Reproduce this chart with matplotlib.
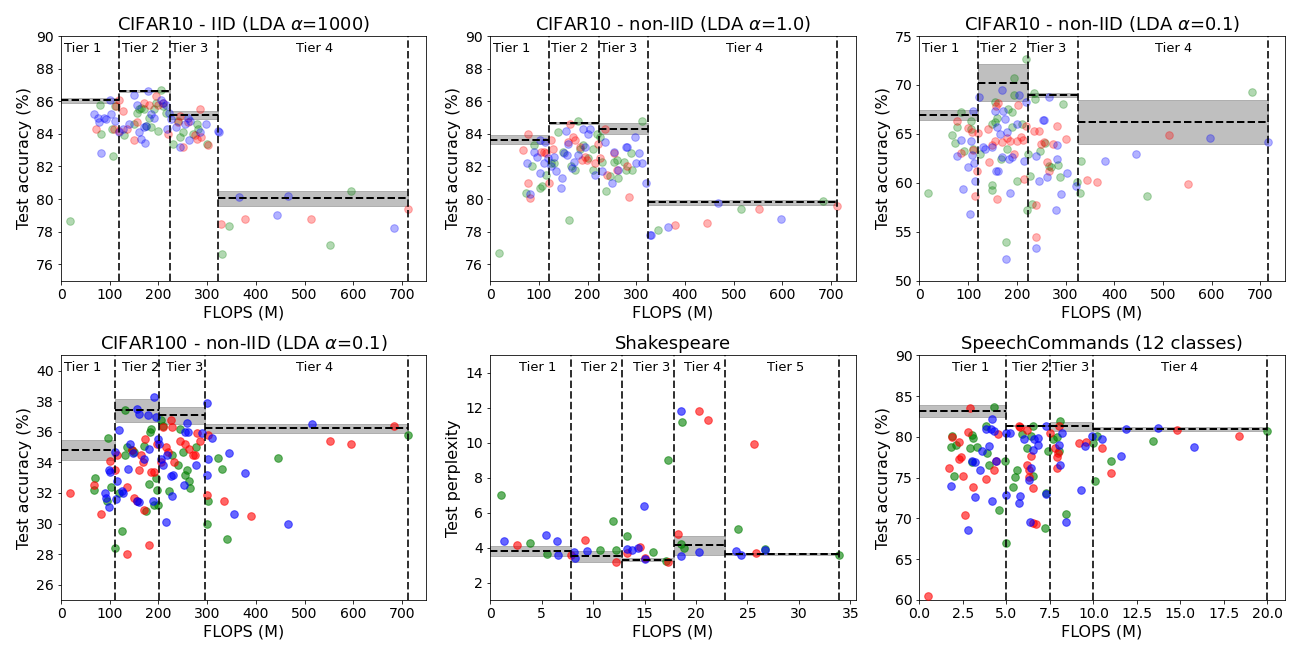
import numpy as np
import matplotlib.pyplot as plt
import matplotlib.transforms as mtransforms

# ---- CIFAR10 IID (alpha=1000) ----
c10iid_bounds = [0, 120, 223, 323, 713]
c10iid_mean = [86.05, 86.62, 85.17, 80.05]
c10iid_std = [0.13, 0.06, 0.25, 0.45]
c10iid_tier_x = [44, 163, 264, 521]
c10iid_green = [(18, 78.65), (80, 85.8), (82, 84.0), (107, 82.65), (105, 84.3), (110, 85.7), (130, 83.9),
                (150, 84.6), (155, 85.3), (160, 85.5), (165, 85.6), (170, 85.5), (175, 84.5), (180, 85.0),
                (185, 84.4), (190, 85.5), (195, 85.9), (200, 84.2), (205, 86.7), (210, 85.7), (215, 85.3),
                (230, 83.4), (240, 84.8), (245, 83.8), (250, 84.1), (270, 84.0), (280, 84.6), (282, 84.3),
                (300, 83.4), (330, 76.65), (345, 78.35), (552, 77.2), (596, 80.5)]
c10iid_red = [(72, 84.3), (108, 84.3), (113, 85.7), (118, 86.05), (120, 84.2), (128, 85.4), (135, 84.3),
              (150, 83.6), (155, 84.7), (170, 85.9), (180, 85.8), (195, 86.3), (200, 85.8), (210, 85.9),
              (220, 84.0), (240, 84.7), (245, 85.1), (250, 83.2), (260, 84.7), (275, 83.9), (280, 83.7),
              (285, 85.5), (288, 83.8), (302, 83.3), (328, 78.45), (377, 78.75), (514, 78.8), (713, 79.4)]
c10iid_blue = [(68, 85.2), (75, 85.0), (78, 84.7), (82, 82.85), (88, 85.0), (92, 84.9), (100, 86.1),
               (103, 85.2), (110, 84.8), (120, 84.1), (128, 84.3), (140, 84.6), (150, 86.4), (155, 85.8),
               (160, 84.1), (165, 83.7), (170, 84.4), (172, 83.45), (175, 84.5), (178, 86.6), (185, 85.2),
               (190, 85.0), (205, 86.1), (210, 85.9), (215, 85.8), (218, 84.3), (222, 85.3), (225, 84.9),
               (235, 84.4), (245, 83.2), (255, 84.6), (260, 85.0), (262, 83.6), (265, 84.8), (285, 84.1),
               (297, 84.6), (322, 84.2), (324, 84.1), (365, 80.15), (443, 79.05), (467, 80.2), (683, 78.2)]

# ---- CIFAR10 non-IID (alpha=1.0) ----
c10a1_bounds = [0, 120, 223, 323, 713]
c10a1_mean = [83.65, 84.65, 84.32, 79.8]
c10a1_std = [0.27, 0.05, 0.35, 0.15]
c10a1_tier_x = [44, 163, 264, 522]
c10a1_green = [(18, 76.7), (73, 80.4), (85, 82.0), (90, 83.3), (103, 80.7), (107, 80.8), (115, 81.5),
               (125, 82.2), (130, 82.2), (140, 84.1), (150, 82.9), (162, 78.7), (165, 82.0), (175, 81.8),
               (180, 84.8), (185, 83.1), (190, 83.3), (200, 82.5), (210, 83.1), (212, 81.8), (220, 84.0),
               (225, 83.8), (230, 82.3), (238, 80.5), (245, 81.4), (255, 82.3), (260, 82.4), (262, 81.3),
               (275, 82.3), (278, 81.8), (290, 82.8), (292, 81.8), (312, 84.8), (345, 78.1), (515, 79.4),
               (683, 79.9)]
c10a1_red = [(68, 83.0), (78, 84.0), (78, 81.0), (82, 80.05), (105, 82.9), (110, 82.9), (115, 82.8),
             (120, 81.0), (125, 83.6), (128, 83.1), (160, 83.5), (163, 84.6), (170, 83.8), (175, 83.6),
             (185, 83.2), (188, 82.4), (195, 82.6), (198, 82.4), (215, 82.2), (222, 83.4), (225, 82.5),
             (235, 84.3), (240, 81.5), (255, 82.8), (260, 81.8), (280, 82.0), (285, 80.1), (380, 78.4),
             (445, 78.55), (551, 79.4), (713, 79.55)]
c10a1_blue = [(75, 82.2), (82, 80.3), (90, 82.9), (97, 82.6), (103, 81.6), (103, 83.6), (110, 82.2),
              (112, 83.5), (118, 82.5), (125, 82.0), (130, 82.6), (135, 81.7), (145, 80.7), (148, 81.3),
              (152, 82.8), (155, 84.2), (158, 82.7), (160, 83.4), (168, 81.9), (172, 82.3), (180, 82.7),
              (190, 84.3), (195, 83.2), (200, 84.0), (205, 84.3), (215, 81.5), (230, 81.7), (235, 83.5),
              (250, 81.0), (255, 82.9), (262, 81.8), (278, 83.2), (280, 83.2), (298, 83.8), (300, 82.2),
              (305, 82.8), (312, 82.2), (320, 81.0), (328, 77.8), (330, 77.8), (365, 78.3), (468, 79.75),
              (596, 78.75)]

# ---- CIFAR10 non-IID (alpha=0.1) ----
c10a01_bounds = [0, 120, 223, 325, 715]
c10a01_mean = [66.94, 70.24, 68.98, 66.22]
c10a01_std = [0.52, 1.88, 0.2, 2.23]
c10a01_tier_x = [44, 163, 264, 521]
c10a01_green = [(18, 59.0), (67, 64.9), (73, 64.1), (77, 65.7), (85, 67.2), (92, 63.2), (105, 66.3),
                (105, 65.5), (110, 63.5), (125, 62.9), (148, 59.8), (150, 59.3), (150, 66.0), (155, 66.2),
                (155, 68.3), (160, 66.6), (168, 62.4), (178, 53.9), (180, 63.5), (182, 67.5), (190, 67.2),
                (190, 65.7), (195, 69.0), (195, 70.7), (200, 60.2), (210, 66.0), (218, 72.7), (220, 57.2),
                (222, 62.9), (228, 60.7), (232, 57.8), (235, 69.2), (238, 68.6), (248, 63.2), (258, 64.1),
                (265, 61.7), (270, 61.6), (285, 61.8), (288, 60.6), (295, 68.1), (323, 60.1), (330, 59.0),
                (332, 62.2), (468, 58.6), (682, 69.3)]
c10a01_red = [(78, 66.3), (85, 63.0), (100, 65.6), (108, 65.2), (110, 63.4), (115, 58.6), (118, 61.2),
              (120, 65.1), (140, 65.5), (143, 62.1), (150, 63.9), (155, 64.3), (157, 67.8), (160, 58.3),
              (162, 68.2), (170, 64.2), (180, 64.6), (185, 64.3), (195, 62.9), (200, 64.3), (203, 68.0),
              (208, 64.7), (213, 64.4), (215, 60.4), (218, 65.8), (235, 65.3), (240, 57.7), (240, 54.5),
              (245, 65.3), (250, 64.0), (255, 64.2), (262, 62.1), (265, 61.2), (275, 64.0), (283, 65.8),
              (300, 64.5), (345, 60.3), (365, 60.1), (512, 64.9), (551, 59.9)]
c10a01_blue = [(78, 62.7), (85, 64.4), (90, 59.4), (100, 61.6), (103, 56.8), (105, 64.3), (108, 62.8),
               (110, 67.3), (112, 62.0), (115, 60.2), (122, 68.8), (130, 63.7), (135, 63.5), (148, 63.7),
               (155, 67.3), (157, 61.2), (160, 65.7), (162, 61.2), (165, 65.0), (170, 69.5), (170, 62.6),
               (172, 67.3), (175, 66.5), (178, 52.2), (180, 65.2), (183, 62.4), (185, 59.0), (190, 62.6),
               (200, 66.0), (205, 69.0), (215, 62.2), (218, 68.3), (240, 62.7), (240, 53.3), (245, 60.2),
               (253, 66.4), (255, 66.4), (262, 60.6), (265, 68.8), (280, 57.2), (282, 63.9), (283, 62.4),
               (290, 58.9), (302, 61.0), (322, 59.7), (380, 62.2), (445, 62.9), (597, 64.6), (715, 64.2)]

# ---- CIFAR100 non-IID (alpha=0.1) ----
c100_bounds = [0, 110, 202, 295, 713]
c100_mean = [34.8, 37.4, 37.08, 36.22]
c100_std = [0.65, 0.75, 0.57, 0.3]
c100_tier_x = [44, 163, 254, 521]
c100_green = [(68, 32.2), (70, 33.0), (95, 31.5), (97, 35.6), (103, 32.4), (110, 28.4), (120, 32.0),
              (125, 29.5), (132, 37.4), (132, 34.5), (135, 35.0), (145, 34.8), (150, 34.7), (170, 35.1),
              (175, 30.8), (180, 32.6), (182, 36.0), (185, 36.2), (190, 31.2), (195, 33.0), (198, 32.2),
              (200, 31.2), (205, 36.8), (210, 36.4), (222, 32.1), (228, 34.5), (240, 33.8), (245, 36.2),
              (250, 34.7), (255, 33.2), (258, 33.5), (262, 32.8), (265, 32.3), (278, 35.0), (300, 30.0),
              (302, 31.5), (322, 34.3), (330, 33.6), (340, 29.0), (445, 34.3), (713, 35.8)]
c100_red = [(18, 32.0), (68, 32.5), (82, 30.6), (100, 34.1), (110, 33.5), (115, 34.5), (135, 28.0),
            (136, 32.4), (145, 34.8), (150, 31.7), (155, 31.5), (160, 33.5), (165, 34.5), (168, 34.0),
            (170, 30.9), (172, 35.5), (180, 28.6), (185, 33.4), (190, 33.4), (198, 35.2), (205, 34.0),
            (210, 36.3), (215, 35.0), (220, 34.7), (225, 36.8), (228, 36.3), (232, 34.0), (245, 35.4),
            (255, 35.2), (262, 34.9), (270, 34.5), (275, 34.5), (280, 35.9), (285, 35.4), (300, 31.9),
            (302, 35.8), (335, 31.5), (390, 30.5), (552, 35.4), (596, 35.2), (683, 36.4)]
c100_blue = [(90, 32.0), (92, 31.7), (98, 31.1), (98, 33.5), (100, 33.4), (110, 34.7), (112, 31.6),
             (115, 32.8), (118, 36.1), (125, 32.1), (128, 32.0), (138, 33.6), (142, 35.2), (148, 34.6),
             (155, 37.5), (155, 31.5), (160, 37.2), (160, 31.4), (170, 34.2), (178, 37.1), (180, 34.9),
             (188, 31.5), (190, 38.3), (195, 37.0), (200, 35.5), (202, 35.2), (205, 34.2), (210, 33.8),
             (215, 30.1), (218, 34.5), (225, 33.1), (228, 31.8), (230, 33.2), (252, 32.5), (255, 36.0),
             (258, 36.6), (260, 36.0), (278, 33.8), (290, 35.9), (300, 37.9), (302, 34.2), (300, 33.2),
             (310, 35.6), (345, 34.6), (355, 30.6), (378, 33.3), (467, 30.0), (515, 36.5)]

# ---- Shakespeare ----
shk_bounds = [0, 7.83, 12.78, 17.83, 22.78, 33.85]
shk_mean = [3.81, 3.5, 3.3, 4.12, 3.63]
shk_std = [0.27, 0.3, 0.08, 0.55, 0.04]
shk_tier_x = [4.6, 10.6, 15.7, 20.6, 28.7]
shk_green = [(1.0, 7.03), (3.9, 4.27), (5.5, 3.65), (10.7, 3.87), (11.9, 5.53), (12.2, 3.87), (13.3, 4.67),
             (15.8, 3.76), (17.1, 3.25), (17.3, 9.02), (18.6, 11.2), (18.5, 4.2), (18.8, 4.0), (24.1, 5.06),
             (26.7, 3.9), (33.9, 3.6)]
shk_red = [(2.6, 4.15), (7.8, 3.55), (9.2, 4.46), (12.2, 3.2), (13.3, 3.7), (14.6, 4.05), (15.0, 3.4),
           (17.3, 3.2), (18.2, 4.8), (20.3, 11.8), (21.2, 11.3), (25.6, 9.93), (25.8, 3.67)]
shk_blue = [(1.3, 4.4), (5.4, 4.73), (6.5, 4.4), (6.6, 3.6), (8.1, 3.75), (8.2, 3.4), (9.4, 3.78),
            (13.3, 3.9), (13.8, 3.85), (14.4, 4.0), (14.9, 6.4), (15.0, 3.35), (18.5, 11.8), (18.5, 3.5),
            (20.3, 3.72), (23.9, 3.78), (24.4, 3.55), (26.7, 3.85)]

# ---- SpeechCommands ----
sc_bounds = [0, 5, 7.5, 10, 20]
sc_mean = [83.2, 81.4, 81.3, 81.0]
sc_std = [0.7, 0.05, 0.58, 0.25]
sc_tier_x = [2.94, 6.42, 8.72, 14.95]
sc_green = [(1.8, 78.8), (1.9, 80.1), (2.0, 75.2), (2.1, 79.0), (2.9, 78.7), (3.0, 80.2), (3.0, 76.9),
            (3.1, 79.9), (3.3, 78.8), (3.8, 81.3), (3.9, 78.0), (4.0, 76.6), (4.3, 83.7), (4.6, 71.0),
            (4.9, 77.1), (5.0, 67.0), (5.4, 73.9), (5.5, 75.1), (5.6, 76.0), (5.9, 80.3), (6.2, 78.6),
            (6.4, 80.1), (6.5, 75.2), (6.5, 81.4), (7.2, 68.8), (7.3, 73.1), (7.4, 78.3), (7.7, 79.8),
            (7.9, 80.0), (8.0, 78.3), (8.1, 81.9), (8.4, 70.5), (10.0, 79.3), (10.1, 74.6), (10.2, 80.1),
            (11.0, 77.1), (13.4, 79.5), (20.0, 80.7)]
sc_red = [(0.5, 60.5), (1.7, 76.2), (1.9, 80.0), (2.3, 77.3), (2.3, 79.4), (2.4, 77.5), (2.5, 75.2),
          (2.6, 70.4), (2.8, 80.6), (2.9, 83.5), (3.1, 73.8), (3.8, 74.9), (4.3, 76.0), (4.4, 77.0),
          (4.5, 80.3), (5.7, 81.3), (5.8, 81.2), (6.2, 80.8), (6.2, 76.6), (6.3, 75.9), (6.3, 75.1),
          (6.4, 77.7), (6.5, 73.7), (6.5, 69.5), (6.7, 69.3), (7.5, 80.5), (7.8, 78.7), (7.9, 77.6),
          (7.9, 76.2), (7.95, 78.0), (8.0, 81.3), (9.2, 79.3), (9.6, 79.4), (10.5, 78.7), (11.0, 75.6),
          (14.8, 80.9), (18.4, 80.1)]
sc_blue = [(1.8, 74.0), (2.8, 68.6), (3.0, 77.1), (3.2, 76.9), (3.2, 72.6), (3.5, 76.0), (3.6, 78.3),
           (3.8, 81.0), (4.0, 78.9), (4.1, 81.0), (4.2, 82.2), (4.2, 72.2), (4.3, 80.7), (4.4, 77.1),
           (5.0, 80.5), (5.0, 72.9), (5.2, 80.5), (5.8, 72.8), (5.7, 71.9), (6.0, 79.7), (6.3, 74.7),
           (6.35, 69.6), (6.4, 76.2), (6.5, 78.4), (6.6, 79.8), (6.8, 79.0), (6.8, 79.9), (7.3, 81.3),
           (7.3, 73.0), (8.0, 79.0), (8.1, 76.6), (8.2, 80.5), (8.4, 69.6), (9.3, 73.5), (9.5, 78.9),
           (9.9, 80.1), (10.5, 79.8), (11.6, 77.7), (11.9, 81.0), (13.7, 81.1), (15.8, 78.8)]


def draw_panel(ax, title, pts, bounds, mean, std, tier_x, alpha, ylim, yticks, xlim, xticks, ylabel):
    for col in ["green", "red", "blue"]:
        xy = np.array(pts[col])
        ax.scatter(xy[:, 0], xy[:, 1], s=58, color=col, alpha=alpha, zorder=3)
    for b in bounds[1:]:
        ax.axvline(b, color="k", linestyle="--", lw=2, alpha=0.8, zorder=4)
    for i in range(len(mean)):
        xs = [bounds[i], bounds[i + 1]]
        ax.fill_between(xs, mean[i] - std[i], mean[i] + std[i], color="gray", alpha=0.5, zorder=2)
        ax.plot(xs, [mean[i], mean[i]], "k--", lw=2, zorder=5)
    trans = mtransforms.blended_transform_factory(ax.transData, ax.transAxes)
    for i, tx in enumerate(tier_x):
        ax.text(tx, 0.95, "Tier " + str(i + 1), transform=trans, ha="center", va="center", fontsize=13)
    ax.set_title(title, fontsize=18)
    ax.set_xlim(xlim)
    ax.set_ylim(ylim)
    ax.set_yticks(yticks)
    ax.set_xticks(xticks)
    ax.tick_params(labelsize=14)
    ax.set_xlabel("FLOPS (M)", fontsize=16)
    ax.set_ylabel(ylabel, fontsize=16)


fig, axes = plt.subplots(2, 3, figsize=(1299 / 72, 655 / 72), dpi=72)
plt.subplots_adjust(left=0.047, right=0.989, bottom=0.084, top=0.945, wspace=0.175, hspace=0.306)

acc = "Test accuracy (%)"
big_x = np.arange(0, 701, 100)
draw_panel(axes[0, 0], r"CIFAR10 - IID (LDA $\alpha$=1000)",
           {"green": c10iid_green, "red": c10iid_red, "blue": c10iid_blue},
           c10iid_bounds, c10iid_mean, c10iid_std, c10iid_tier_x, 0.3,
           (75, 90), np.arange(76, 91, 2), (0, 750), big_x, acc)
draw_panel(axes[0, 1], r"CIFAR10 - non-IID (LDA $\alpha$=1.0)",
           {"green": c10a1_green, "red": c10a1_red, "blue": c10a1_blue},
           c10a1_bounds, c10a1_mean, c10a1_std, c10a1_tier_x, 0.3,
           (75, 90), np.arange(76, 91, 2), (0, 750), big_x, acc)
draw_panel(axes[0, 2], r"CIFAR10 - non-IID (LDA $\alpha$=0.1)",
           {"green": c10a01_green, "red": c10a01_red, "blue": c10a01_blue},
           c10a01_bounds, c10a01_mean, c10a01_std, c10a01_tier_x, 0.3,
           (50, 75), np.arange(50, 76, 5), (0, 750), big_x, acc)
draw_panel(axes[1, 0], r"CIFAR100 - non-IID (LDA $\alpha$=0.1)",
           {"green": c100_green, "red": c100_red, "blue": c100_blue},
           c100_bounds, c100_mean, c100_std, c100_tier_x, 0.6,
           (25, 41), np.arange(26, 41, 2), (0, 750), big_x, acc)
draw_panel(axes[1, 1], "Shakespeare",
           {"green": shk_green, "red": shk_red, "blue": shk_blue},
           shk_bounds, shk_mean, shk_std, shk_tier_x, 0.6,
           (1, 15), np.arange(2, 15, 2), (0, 35.5), np.arange(0, 36, 5), "Test perplexity")
draw_panel(axes[1, 2], "SpeechCommands (12 classes)",
           {"green": sc_green, "red": sc_red, "blue": sc_blue},
           sc_bounds, sc_mean, sc_std, sc_tier_x, 0.6,
           (60, 90), np.arange(60, 91, 5), (0, 21), np.arange(0, 20.1, 2.5), acc)
axes[1, 2].xaxis.set_major_formatter(plt.FormatStrFormatter("%.1f"))

plt.savefig("out.png", dpi=72)
